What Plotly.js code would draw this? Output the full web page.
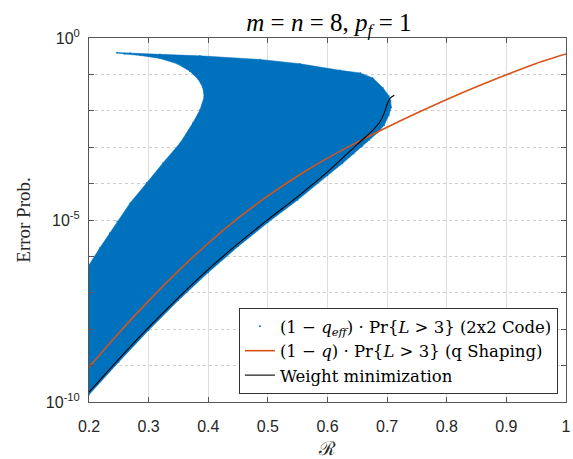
<!DOCTYPE html>
<html>
<head>
<meta charset="utf-8">
<script src="https://cdn.plot.ly/plotly-3.0.1.min.js"></script>
<style>
  html, body { margin: 0; padding: 0; background: #ffffff; }
  #plot { width: 573px; height: 459px; }
</style>
</head>
<body>
<div id="plot"></div>
<script>
// Outline of the 2x2-code operating points (rate, error probability),
// traced from the upper-left spike along the top edge, down the lower edge,
// up the R = 0.2 border and back along the inner boundary.
const codeRate = [
  0.247, 0.269, 0.319, 0.386, 0.487, 0.554, 0.621, 0.655, 0.676, 0.693, 0.703, 0.706,
  0.707, 0.703, 0.695, 0.684, 0.670, 0.658, 0.644, 0.625, 0.6, 0.55, 0.5, 0.45, 0.4, 0.35, 0.3, 0.25, 0.2,
  0.2,
  0.218, 0.235, 0.247, 0.269, 0.297, 0.324, 0.353, 0.374, 0.386, 0.393, 0.391, 0.383, 0.369, 0.348, 0.319, 0.286, 0.260, 0.247
];
const codeErr = [
  0.398, 0.389, 0.355, 0.324, 0.257, 0.195, 0.129, 0.110, 0.0794, 0.0427, 0.0257, 0.0186,
  0.0126, 0.0076, 0.0040, 0.0025, 0.00158, 0.00105, 6.6e-4, 3.55e-4, 1.66e-4, 3.55e-5, 8.5e-6, 1.86e-6, 3.6e-7, 6.2e-8, 9.3e-9, 1.26e-9, 1.58e-10,
  5.8e-7,
  1.7e-6, 4.4e-6, 9.3e-6, 2.95e-5, 1.05e-4, 3.7e-4, 1.32e-3, 4.6e-3, 0.0105, 0.024, 0.0427, 0.074, 0.123, 0.195, 0.275, 0.331, 0.363, 0.389
];

// q shaping curve
const shapingRate = [0.2, 0.25, 0.3, 0.35, 0.4, 0.45, 0.5, 0.55, 0.6, 0.65, 0.7, 0.75, 0.8, 0.85, 0.9, 0.95, 1.0];
const shapingErr  = [9.1e-10, 7.9e-9, 6.0e-8, 4.0e-7, 2.3e-6, 1.12e-5, 4.6e-5, 1.62e-4, 5.0e-4, 1.38e-3, 3.55e-3, 8.7e-3, 2.04e-2, 4.57e-2, 9.8e-2, 0.200, 0.363];

// weight minimization curve
const weightRate = [0.2, 0.25, 0.3, 0.35, 0.4, 0.45, 0.5, 0.55, 0.6, 0.65, 0.675, 0.688, 0.696, 0.701, 0.706, 0.712];
const weightErr  = [1.86e-10, 1.51e-9, 1.12e-8, 7.4e-8, 4.4e-7, 2.24e-6, 1.02e-5, 4.4e-5, 2.09e-4, 1.20e-3, 2.82e-3, 5.0e-3, 9.5e-3, 1.66e-2, 2.29e-2, 2.69e-2];

// y axis: a tick per decade, labels every five decades
const yTickVals = [1e-10, 1e-9, 1e-8, 1e-7, 1e-6, 1e-5, 1e-4, 1e-3, 1e-2, 1e-1, 1];
const yTickText = ['10<sup>-10</sup>', '', '', '', '', '10<sup>-5</sup>', '', '', '', '', '10<sup>0</sup>'];
const xTickVals = [0.2, 0.3, 0.4, 0.5, 0.6, 0.7, 0.8, 0.9, 1];

const blue = '#0072BD';
const orange = '#D95319';

const traces = [
  {
    x: codeRate, y: codeErr,
    type: 'scatter', mode: 'lines', fill: 'toself',
    fillcolor: blue, line: { color: blue, width: 0.5 },
    showlegend: false, hoverinfo: 'skip', legendgroup: 'code'
  },
  {
    x: codeRate, y: codeErr,
    type: 'scatter', mode: 'markers',
    marker: { color: blue, size: 1.5 },
    name: '(1 − <i>q</i><sub><i>eff</i></sub>) · Pr{<i>L</i> &gt; 3} (2x2 Code)',
    legendgroup: 'code'
  },
  {
    x: shapingRate, y: shapingErr,
    type: 'scatter', mode: 'lines',
    line: { color: orange, width: 1.6, shape: 'spline', smoothing: 0.8 },
    name: '(1 − <i>q</i>) · Pr{<i>L</i> &gt; 3} (q Shaping)'
  },
  {
    x: weightRate, y: weightErr,
    type: 'scatter', mode: 'lines',
    line: { color: '#000000', width: 1.1, shape: 'spline', smoothing: 0.6 },
    name: 'Weight minimization'
  }
];

const gridGray = '#dedede';
const axisGray = '#555555';

const layout = {
  width: 573, height: 459,
  margin: { l: 89, r: 7, t: 38, b: 57 },
  paper_bgcolor: '#ffffff', plot_bgcolor: '#ffffff',
  showlegend: true,
  title: {
    text: '<i>m</i> = <i>n</i> = 8, <i>p</i><sub><i>f</i></sub> = 1',
    font: { family: 'Liberation Serif', size: 25, color: '#000000' },
    x: 0.574, xanchor: 'center', y: 0.952, yanchor: 'middle'
  },
  xaxis: {
    range: [0.2, 1], tickvals: xTickVals,
    ticks: 'inside', ticklen: 5, tickcolor: axisGray,
    showline: true, linecolor: axisGray, linewidth: 1, mirror: 'ticks',
    showgrid: true, gridcolor: gridGray, gridwidth: 1,
    zeroline: false, ticklabelstandoff: 10,
    tickfont: { family: 'Liberation Sans', size: 16, color: '#262626' },
    title: { text: 'ℛ', font: { family: 'DejaVu Serif', size: 19, color: '#262626' }, standoff: 9 }
  },
  yaxis: {
    type: 'log', range: [-10, 0],
    tickvals: yTickVals, ticktext: yTickText,
    ticks: 'inside', ticklen: 5, tickcolor: axisGray,
    showline: true, linecolor: axisGray, linewidth: 1, mirror: 'ticks',
    showgrid: true, gridcolor: '#cfcfcf', gridwidth: 1, griddash: 'dot',
    zeroline: false, ticklabelstandoff: 5,
    tickfont: { family: 'Liberation Sans', size: 16, color: '#262626' },
    title: { text: 'Error Prob.', font: { family: 'Liberation Serif', size: 19, color: '#262626' }, standoff: 10 }
  },
  legend: {
    x: 0.983, xanchor: 'right', y: 0.022, yanchor: 'bottom',
    bgcolor: '#ffffff', bordercolor: '#333333', borderwidth: 1,
    font: { family: 'DejaVu Serif', size: 16.5, color: '#000000' },
    itemwidth: 30, tracegroupgap: 0
  }
};

Plotly.newPlot('plot', traces, layout, { displayModeBar: false, staticPlot: true });
</script>
</body>
</html>
